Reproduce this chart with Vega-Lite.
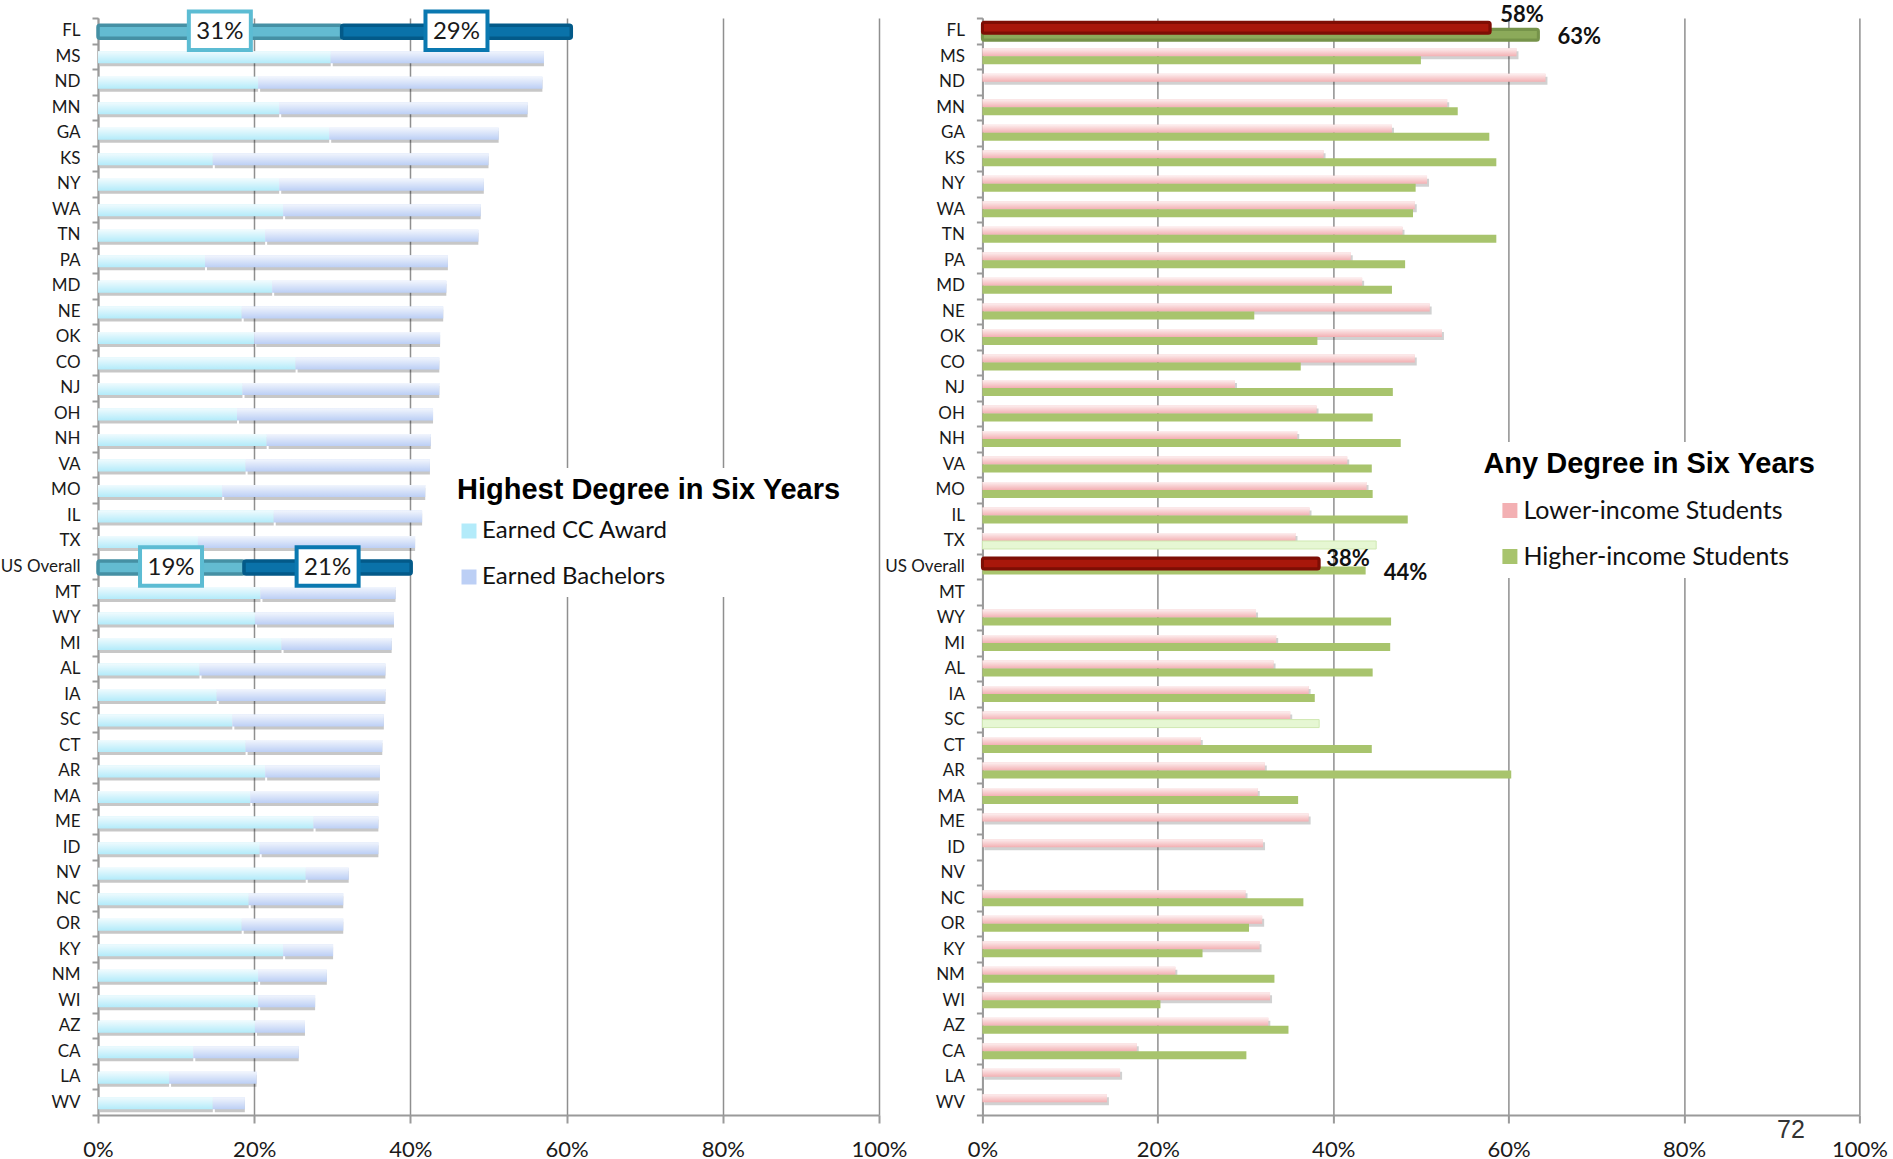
{
  "$schema": "https://vega.github.io/schema/vega-lite/v6.json",
  "background": "white",
  "padding": {"left": 0, "top": 3, "right": 0, "bottom": 0},
  "autosize": {"type": "pad"},
  "spacing": 103.4,
  "bounds": "flush",
  "config": {
    "view": {"stroke": null},
    "font": "Lato",
    "axis": {
      "domainColor": "#9a9a9a", "domainWidth": 2,
      "tickColor": "#9a9a9a", "tickWidth": 2,
      "gridColor": "#8f8f8f", "gridWidth": 1.5,
      "labelColor": "#1a1a1a", "labelFont": "Lato"
    }
  },
  "resolve": {
    "scale": {"x": "independent", "y": "independent", "color": "independent", "stroke": "independent"},
    "legend": {"color": "independent"}
  },
  "datasets": {
    "deg": [
      {"s": "FL", "cc": 0.312, "ba": 0.294},
      {"s": "MS", "cc": 0.298, "ba": 0.273},
      {"s": "ND", "cc": 0.205, "ba": 0.364},
      {"s": "MN", "cc": 0.232, "ba": 0.318},
      {"s": "GA", "cc": 0.296, "ba": 0.217},
      {"s": "KS", "cc": 0.147, "ba": 0.353},
      {"s": "NY", "cc": 0.232, "ba": 0.262},
      {"s": "WA", "cc": 0.237, "ba": 0.253},
      {"s": "TN", "cc": 0.214, "ba": 0.273},
      {"s": "PA", "cc": 0.137, "ba": 0.311},
      {"s": "MD", "cc": 0.223, "ba": 0.223},
      {"s": "NE", "cc": 0.184, "ba": 0.258},
      {"s": "OK", "cc": 0.200, "ba": 0.238},
      {"s": "CO", "cc": 0.253, "ba": 0.184},
      {"s": "NJ", "cc": 0.185, "ba": 0.252},
      {"s": "OH", "cc": 0.178, "ba": 0.251},
      {"s": "NH", "cc": 0.216, "ba": 0.210},
      {"s": "VA", "cc": 0.189, "ba": 0.236},
      {"s": "MO", "cc": 0.159, "ba": 0.260},
      {"s": "IL", "cc": 0.225, "ba": 0.190},
      {"s": "TX", "cc": 0.128, "ba": 0.278},
      {"s": "US Overall", "cc": 0.187, "ba": 0.214},
      {"s": "MT", "cc": 0.208, "ba": 0.173},
      {"s": "WY", "cc": 0.201, "ba": 0.178},
      {"s": "MI", "cc": 0.235, "ba": 0.141},
      {"s": "AL", "cc": 0.130, "ba": 0.238},
      {"s": "IA", "cc": 0.152, "ba": 0.216},
      {"s": "SC", "cc": 0.172, "ba": 0.194},
      {"s": "CT", "cc": 0.189, "ba": 0.175},
      {"s": "AR", "cc": 0.214, "ba": 0.147},
      {"s": "MA", "cc": 0.195, "ba": 0.164},
      {"s": "ME", "cc": 0.276, "ba": 0.083},
      {"s": "ID", "cc": 0.207, "ba": 0.152},
      {"s": "NV", "cc": 0.266, "ba": 0.055},
      {"s": "NC", "cc": 0.193, "ba": 0.121},
      {"s": "OR", "cc": 0.184, "ba": 0.130},
      {"s": "KY", "cc": 0.237, "ba": 0.064},
      {"s": "NM", "cc": 0.205, "ba": 0.088},
      {"s": "WI", "cc": 0.205, "ba": 0.073},
      {"s": "AZ", "cc": 0.201, "ba": 0.064},
      {"s": "CA", "cc": 0.122, "ba": 0.135},
      {"s": "LA", "cc": 0.091, "ba": 0.112},
      {"s": "WV", "cc": 0.147, "ba": 0.041}
    ],
    "inc": [
      {"s": "FL", "lo": 0.579, "hi": 0.634},
      {"s": "MS", "lo": 0.609, "hi": 0.500},
      {"s": "ND", "lo": 0.642, "hi": null},
      {"s": "MN", "lo": 0.530, "hi": 0.542},
      {"s": "GA", "lo": 0.467, "hi": 0.578},
      {"s": "KS", "lo": 0.389, "hi": 0.586},
      {"s": "NY", "lo": 0.507, "hi": 0.494},
      {"s": "WA", "lo": 0.493, "hi": 0.491},
      {"s": "TN", "lo": 0.479, "hi": 0.586},
      {"s": "PA", "lo": 0.420, "hi": 0.482},
      {"s": "MD", "lo": 0.433, "hi": 0.467},
      {"s": "NE", "lo": 0.510, "hi": 0.310},
      {"s": "OK", "lo": 0.524, "hi": 0.382},
      {"s": "CO", "lo": 0.493, "hi": 0.363},
      {"s": "NJ", "lo": 0.288, "hi": 0.468},
      {"s": "OH", "lo": 0.381, "hi": 0.445},
      {"s": "NH", "lo": 0.359, "hi": 0.477},
      {"s": "VA", "lo": 0.416, "hi": 0.444},
      {"s": "MO", "lo": 0.438, "hi": 0.445},
      {"s": "IL", "lo": 0.373, "hi": 0.485},
      {"s": "TX", "lo": 0.357, "hi": 0.449},
      {"s": "US Overall", "lo": 0.384, "hi": 0.437},
      {"s": "MT", "lo": null, "hi": null},
      {"s": "WY", "lo": 0.312, "hi": 0.466},
      {"s": "MI", "lo": 0.335, "hi": 0.465},
      {"s": "AL", "lo": 0.332, "hi": 0.445},
      {"s": "IA", "lo": 0.372, "hi": 0.379},
      {"s": "SC", "lo": 0.351, "hi": 0.384},
      {"s": "CT", "lo": 0.249, "hi": 0.444},
      {"s": "AR", "lo": 0.322, "hi": 0.603},
      {"s": "MA", "lo": 0.314, "hi": 0.360},
      {"s": "ME", "lo": 0.372, "hi": null},
      {"s": "ID", "lo": 0.320, "hi": null},
      {"s": "NV", "lo": null, "hi": null},
      {"s": "NC", "lo": 0.300, "hi": 0.366},
      {"s": "OR", "lo": 0.319, "hi": 0.304},
      {"s": "KY", "lo": 0.316, "hi": 0.251},
      {"s": "NM", "lo": 0.220, "hi": 0.333},
      {"s": "WI", "lo": 0.328, "hi": 0.203},
      {"s": "AZ", "lo": 0.326, "hi": 0.349},
      {"s": "CA", "lo": 0.176, "hi": 0.301},
      {"s": "LA", "lo": 0.157, "hi": null},
      {"s": "WV", "lo": 0.142, "hi": null}
    ]
  },
  "hconcat": [
    {
      "width": 781,
      "height": 1097,
      "data": {"name": "deg"},
      "transform": [
        {"fold": ["cc", "ba"], "as": ["key", "v"]},
        {"stack": "v", "groupby": ["s"], "sort": [{"field": "key", "order": "descending"}], "as": ["x0", "x1"]},
        {"calculate": "(datum.x0 + datum.x1) / 2", "as": "xm"}
      ],
      "encoding": {
        "y": {
          "field": "s", "type": "nominal",
          "scale": {"domain": ["FL","MS","ND","MN","GA","KS","NY","WA","TN","PA","MD","NE","OK","CO","NJ","OH","NH","VA","MO","IL","TX","US Overall","MT","WY","MI","AL","IA","SC","CT","AR","MA","ME","ID","NV","NC","OR","KY","NM","WI","AZ","CA","LA","WV"], "paddingInner": 0, "paddingOuter": 0},
          "axis": {"title": null, "labelFontSize": 17, "tickBand": "extent", "tickSize": 6, "labelPadding": 12, "grid": false},
          "title": null
        },
        "x": {
          "field": "x0", "type": "quantitative",
          "scale": {"domain": [0, 1], "nice": false},
          "axis": {"title": null, "values": [0, 0.2, 0.4, 0.6, 0.8, 1], "format": ".0%", "grid": true, "tickSize": 8, "labelFontSize": 22, "labelPadding": 16, "labelFlush": false, "labelOverlap": false}
        }
      },
      "layer": [
        {
          "transform": [{"filter": "datum.s != 'FL' && datum.s != 'US Overall'"}],
          "mark": {"type": "bar", "height": 12, "yOffset": 4, "xOffset": 2, "fill": "#000000", "opacity": 0.22},
          "encoding": {"x2": {"field": "x1"}}
        },
        {
          "transform": [{"filter": "datum.s != 'FL' && datum.s != 'US Overall'"}],
          "mark": {"type": "bar", "height": 12, "yOffset": 1},
          "encoding": {
            "x2": {"field": "x1"},
            "color": {
              "field": "key", "type": "nominal",
              "scale": {"domain": ["cc", "ba"], "range": ["#b3ebfa", "#bccff5"]},
              "legend": {
                "orient": "none", "legendX": 351, "legendY": 450, "direction": "vertical",
                "title": "Highest Degree in Six Years",
                "titleFont": "Liberation Sans", "titleFontWeight": "bold", "titleFontSize": 29, "titleColor": "#000000", "titleLimit": 700,
                "labelExpr": "datum.label == 'cc' ? 'Earned CC Award' : 'Earned Bachelors'",
                "labelFont": "Lato", "labelFontSize": 24, "labelColor": "#111111", "labelLimit": 500, "labelOffset": 1,
                "symbolType": "square", "symbolSize": 225, "symbolStrokeWidth": 0, "symbolOffset": 0,
                "rowPadding": 22, "titlePadding": 14, "fillColor": "white", "padding": 8
              }
            }
          }
        },
        {
          "transform": [{"filter": "datum.s != 'FL' && datum.s != 'US Overall'"}],
          "mark": {"type": "bar", "height": 12, "yOffset": 1,
            "fill": {"gradient": "linear", "x1": 0, "y1": 0, "x2": 0, "y2": 1, "stops": [{"offset": 0, "color": "rgba(255,255,255,0.8)"}, {"offset": 1, "color": "rgba(255,255,255,0)"}]}},
          "encoding": {"x2": {"field": "x1"}}
        },
        {
          "transform": [{"filter": "(datum.s == 'FL' || datum.s == 'US Overall') && datum.key == 'cc'"}],
          "mark": {"type": "bar", "height": 13, "yOffset": 1, "fill": "#63bbd1", "stroke": "#4590a4", "strokeWidth": 3.5, "cornerRadius": 2},
          "encoding": {"x2": {"field": "x1"}}
        },
        {
          "transform": [{"filter": "(datum.s == 'FL' || datum.s == 'US Overall') && datum.key == 'ba'"}],
          "mark": {"type": "bar", "height": 13, "yOffset": 1, "fill": "#0a72a9", "stroke": "#035a89", "strokeWidth": 3.5, "cornerRadius": 2},
          "encoding": {"x2": {"field": "x1"}}
        },
        {
          "transform": [{"filter": "datum.s == 'FL' || datum.s == 'US Overall'"}],
          "mark": {"type": "point", "shape": "M-1,-0.62H1V0.62H-1Z", "size": 3844, "fill": "white", "strokeWidth": 4, "opacity": 1, "filled": false},
          "encoding": {
            "x": {"field": "xm", "type": "quantitative"},
            "stroke": {"field": "key", "type": "nominal", "scale": {"domain": ["cc", "ba"], "range": ["#5cbcd3", "#0a78b0"]}, "legend": null}
          }
        },
        {
          "transform": [{"filter": "datum.s == 'FL' || datum.s == 'US Overall'"}],
          "mark": {"type": "text", "font": "Lato", "fontSize": 24, "color": "#1a1a1a", "baseline": "middle", "align": "center", "dy": 1},
          "encoding": {
            "x": {"field": "xm", "type": "quantitative"},
            "text": {"field": "v", "type": "quantitative", "format": ".0%"}
          }
        }
      ]
    },
    {
      "width": 877,
      "height": 1097,
      "data": {"name": "inc"},
      "transform": [
        {"fold": ["lo", "hi"], "as": ["grp", "v"]},
        {"filter": "isValid(datum.v)"}
      ],
      "encoding": {
        "y": {
          "field": "s", "type": "nominal",
          "scale": {"domain": ["FL","MS","ND","MN","GA","KS","NY","WA","TN","PA","MD","NE","OK","CO","NJ","OH","NH","VA","MO","IL","TX","US Overall","MT","WY","MI","AL","IA","SC","CT","AR","MA","ME","ID","NV","NC","OR","KY","NM","WI","AZ","CA","LA","WV"], "paddingInner": 0, "paddingOuter": 0},
          "axis": {"title": null, "labelFontSize": 17, "tickBand": "extent", "tickSize": 6, "labelPadding": 12, "grid": false},
          "title": null
        },
        "x": {
          "field": "v", "type": "quantitative",
          "scale": {"domain": [0, 1], "nice": false},
          "axis": {"title": "72", "titleX": 808, "titleY": 14, "titleAlign": "center", "titleBaseline": "middle", "titleFont": "Liberation Sans", "titleFontSize": 25, "titleFontWeight": "normal", "titleColor": "#333333",
            "values": [0, 0.2, 0.4, 0.6, 0.8, 1], "format": ".0%", "grid": true, "tickSize": 8, "labelFontSize": 22, "labelPadding": 16, "labelFlush": false, "labelOverlap": false}
        }
      },
      "layer": [
        {
          "transform": [{"filter": "datum.grp == 'lo' && datum.s != 'FL' && datum.s != 'US Overall'"}],
          "mark": {"type": "bar", "height": 8, "yOffset": -1, "xOffset": 2, "fill": "#000000", "opacity": 0.18}
        },
        {
          "transform": [{"filter": "datum.grp == 'lo' && datum.s != 'FL' && datum.s != 'US Overall'"}],
          "mark": {"type": "bar", "height": 8, "yOffset": -4},
          "encoding": {
            "color": {
              "field": "grp", "type": "nominal",
              "scale": {"domain": ["lo", "hi"], "range": ["#f3b0b3", "#a8c46d"]},
              "legend": {
                "orient": "none", "legendX": 493, "legendY": 424, "direction": "vertical",
                "title": "Any Degree in Six Years",
                "titleFont": "Liberation Sans", "titleFontWeight": "bold", "titleFontSize": 29, "titleColor": "#000000", "titleLimit": 700,
                "labelExpr": "datum.label == 'lo' ? 'Lower-income Students' : 'Higher-income Students'",
                "labelFont": "Lato", "labelFontSize": 25, "labelColor": "#111111", "labelLimit": 500, "labelOffset": 1,
                "symbolType": "square", "symbolSize": 225, "symbolStrokeWidth": 0, "symbolOffset": 14,
                "rowPadding": 20, "titlePadding": 19, "fillColor": "white", "padding": 8
              }
            }
          }
        },
        {
          "transform": [{"filter": "datum.grp == 'lo' && datum.s != 'FL' && datum.s != 'US Overall'"}],
          "mark": {"type": "bar", "height": 8, "yOffset": -4,
            "fill": {"gradient": "linear", "x1": 0, "y1": 0, "x2": 0, "y2": 1, "stops": [{"offset": 0, "color": "rgba(255,255,255,0.8)"}, {"offset": 1, "color": "rgba(255,255,255,0)"}]}}
        },
        {
          "transform": [{"filter": "datum.grp == 'hi' && datum.s != 'FL' && datum.s != 'TX' && datum.s != 'SC'"}],
          "mark": {"type": "bar", "height": 8, "yOffset": 4},
          "encoding": {
            "color": {
              "field": "grp", "type": "nominal",
              "scale": {"domain": ["lo", "hi"], "range": ["#f3b0b3", "#a8c46d"]},
              "legend": {
                "orient": "none", "legendX": 493, "legendY": 424, "direction": "vertical",
                "title": "Any Degree in Six Years",
                "titleFont": "Liberation Sans", "titleFontWeight": "bold", "titleFontSize": 29, "titleColor": "#000000", "titleLimit": 700,
                "labelExpr": "datum.label == 'lo' ? 'Lower-income Students' : 'Higher-income Students'",
                "labelFont": "Lato", "labelFontSize": 25, "labelColor": "#111111", "labelLimit": 500, "labelOffset": 1,
                "symbolType": "square", "symbolSize": 225, "symbolStrokeWidth": 0, "symbolOffset": 14,
                "rowPadding": 20, "titlePadding": 19, "fillColor": "white", "padding": 8
              }
            }
          }
        },
        {
          "transform": [{"filter": "datum.grp == 'hi' && (datum.s == 'TX' || datum.s == 'SC')"}],
          "mark": {"type": "bar", "height": 8, "yOffset": 4, "fill": "#e6f7d3", "stroke": "#cfe8b2", "strokeWidth": 1}
        },
        {
          "transform": [{"filter": "datum.grp == 'hi' && datum.s == 'FL'"}],
          "mark": {"type": "bar", "height": 11, "yOffset": 4, "fill": "#8caa5a", "stroke": "#76934a", "strokeWidth": 3, "cornerRadius": 2}
        },
        {
          "transform": [{"filter": "datum.grp == 'lo' && (datum.s == 'FL' || datum.s == 'US Overall')"}],
          "mark": {"type": "bar", "height": 11, "yOffset": -3, "fill": "#a8170b", "stroke": "#7d0e05", "strokeWidth": 3, "cornerRadius": 2}
        },
        {
          "transform": [{"filter": "datum.grp == 'lo' && datum.s == 'FL'"}],
          "mark": {"type": "text", "font": "Lato", "fontWeight": "bold", "fontSize": 22, "color": "#111111", "align": "left", "baseline": "middle", "dx": 10, "dy": -16},
          "encoding": {"text": {"field": "v", "type": "quantitative", "format": ".0%"}}
        },
        {
          "transform": [{"filter": "datum.grp == 'hi' && datum.s == 'FL'"}],
          "mark": {"type": "text", "font": "Lato", "fontWeight": "bold", "fontSize": 22, "color": "#111111", "align": "left", "baseline": "middle", "dx": 19, "dy": 6},
          "encoding": {"text": {"field": "v", "type": "quantitative", "format": ".0%"}}
        },
        {
          "transform": [{"filter": "datum.grp == 'lo' && datum.s == 'US Overall'"}],
          "mark": {"type": "text", "font": "Lato", "fontWeight": "bold", "fontSize": 22, "color": "#111111", "align": "left", "baseline": "middle", "dx": 7, "dy": -8},
          "encoding": {"text": {"field": "v", "type": "quantitative", "format": ".0%"}}
        },
        {
          "transform": [{"filter": "datum.grp == 'hi' && datum.s == 'US Overall'"}],
          "mark": {"type": "text", "font": "Lato", "fontWeight": "bold", "fontSize": 22, "color": "#111111", "align": "left", "baseline": "middle", "dx": 18, "dy": 6},
          "encoding": {"text": {"field": "v", "type": "quantitative", "format": ".0%"}}
        }
      ]
    }
  ]
}
